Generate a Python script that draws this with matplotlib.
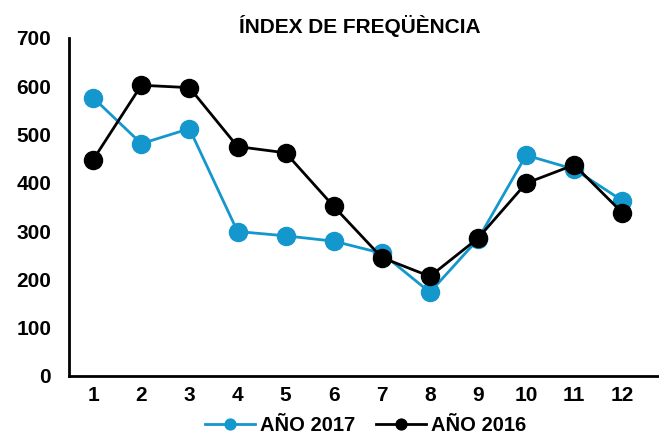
import matplotlib
matplotlib.use("Agg")
import matplotlib.pyplot as plt

plt.rcParams['font.family'] = ['Liberation Sans', 'DejaVu Sans']
plt.rcParams['font.weight'] = 'bold'

# datos
meses = [1, 2, 3, 4, 5, 6, 7, 8, 9, 10, 11, 12]
anio_2017 = [576, 481, 512, 299, 290, 279, 254, 173, 283, 457, 428, 363]
anio_2016 = [448, 602, 597, 475, 462, 351, 245, 206, 285, 399, 437, 338]
y_ticks = [0, 100, 200, 300, 400, 500, 600, 700]

azul = '#1497CD'

fig = plt.figure(figsize=(6.59, 4.36), dpi=100)
ax = fig.add_axes([0.105, 0.138, 0.905, 0.775])

ax.plot(meses, anio_2017, color=azul, lw=2, marker='o', ms=13,
        label='AÑO 2017', zorder=2)
ax.plot(meses, anio_2016, color='black', lw=2, marker='o', ms=13,
        label='AÑO 2016', zorder=3)

ax.set_xlim(0.5, 12.9)
ax.set_ylim(0, 700)
ax.set_xticks(meses)
ax.set_yticks(y_ticks)
ax.tick_params(axis='both', length=0, labelsize=15)
ax.tick_params(axis='x', pad=7)
ax.tick_params(axis='y', pad=13)
for lbl in ax.get_xticklabels() + ax.get_yticklabels():
    lbl.set_fontweight('bold')

for s in ['top', 'right']:
    ax.spines[s].set_visible(False)
for s in ['left', 'bottom']:
    ax.spines[s].set_linewidth(2)
    ax.spines[s].set_color('black')

fig.text(0.5455, 1 - 26 / 436, 'ÍNDEX DE FREQÜÈNCIA', fontsize=15,
         fontweight='bold', ha='center', va='center')

leg = fig.legend(loc='center', bbox_to_anchor=(0.555, 0.024), ncol=2,
                 frameon=False, fontsize=14.5, markerscale=0.6,
                 handlelength=2.5, columnspacing=1.0, handletextpad=0.25,
                 borderpad=0, borderaxespad=0)
for t in leg.get_texts():
    t.set_fontweight('bold')

fig.savefig('out.png', dpi=100)
